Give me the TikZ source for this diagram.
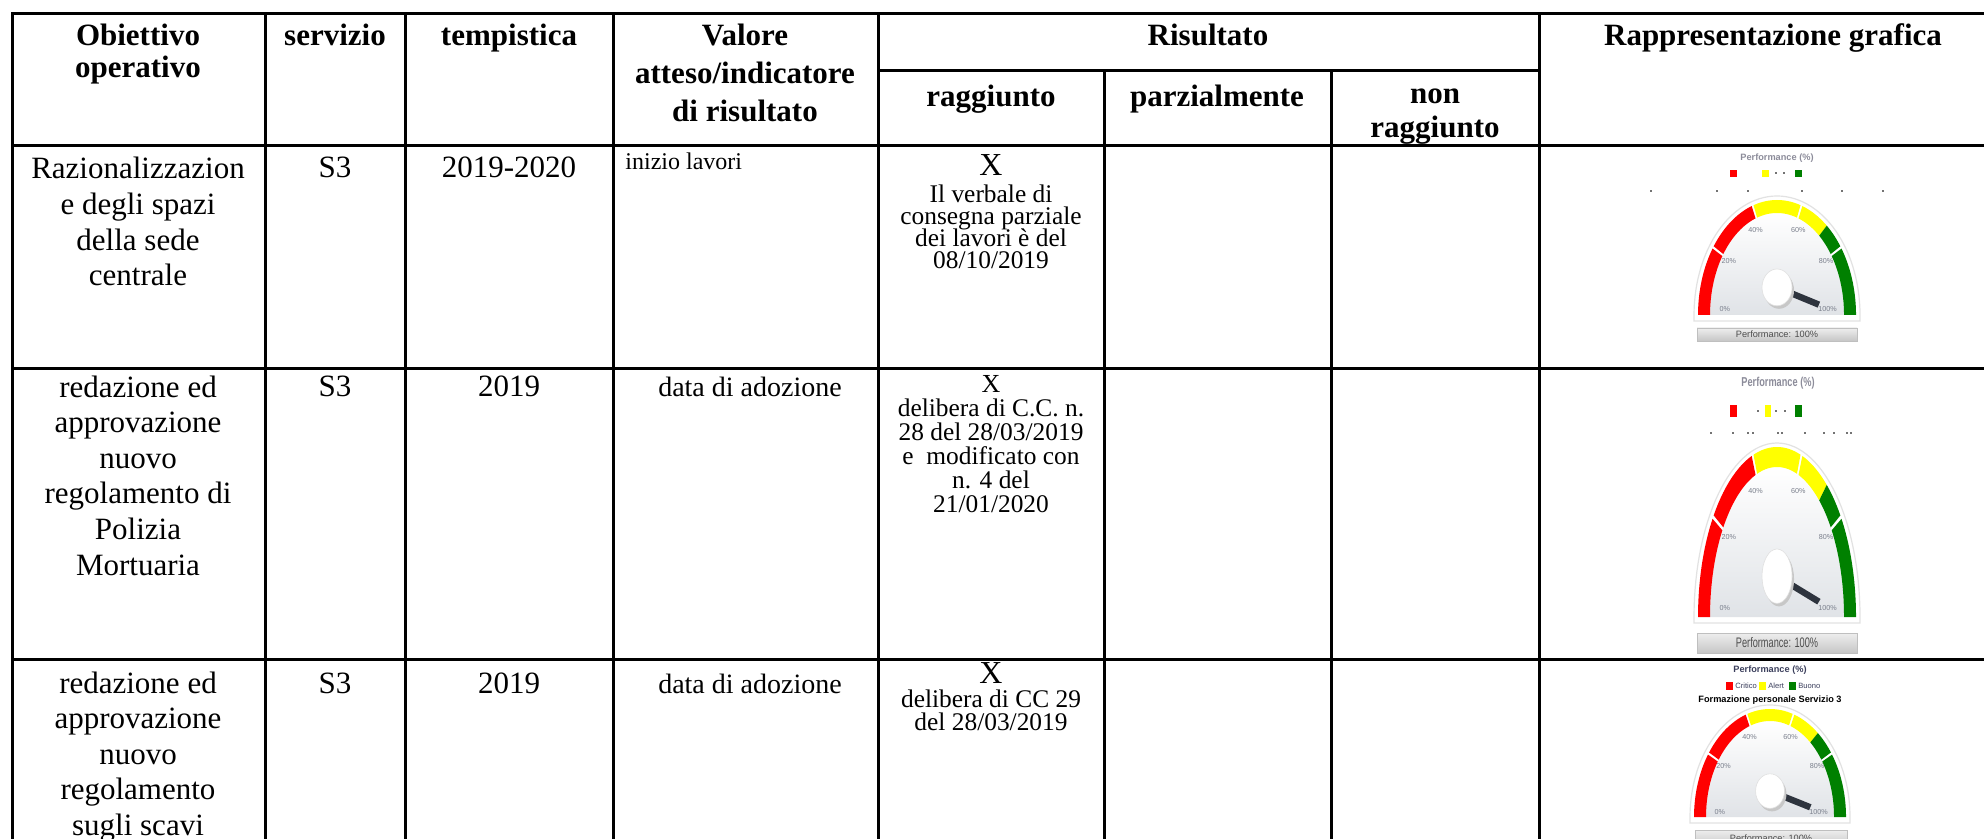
\documentclass[tikz,border=0pt]{standalone}
\usepackage{fontspec}
\setmainfont{Liberation Serif}
\newfontfamily\gsans{Liberation Sans}
\definecolor{gred}{HTML}{FF0000}
\definecolor{gyel}{HTML}{FFFF00}
\definecolor{ggrn}{HTML}{008000}
\definecolor{gbg}{HTML}{E0E3E7}
\definecolor{gring}{HTML}{E2E2E2}
\definecolor{glab}{HTML}{7A7F8C}
\definecolor{gneedle}{HTML}{2E343E}
\definecolor{gtitle}{HTML}{3B3F5C}
\definecolor{gdim}{HTML}{8C8C9A}
\definecolor{gbarA}{HTML}{EEEEEE}
\definecolor{gbarB}{HTML}{C6C6C6}
\tikzset{
  grid/.style={line width=1.5pt, line cap=rect},
  hd/.style={font=\fontsize{15.5}{18}\selectfont\bfseries, inner sep=0pt},
  bd/.style={font=\fontsize{15.5}{18}\selectfont, inner sep=0pt},
  md/.style={font=\fontsize{14}{16}\selectfont, inner sep=0pt},
  sm/.style={font=\fontsize{12.7}{15}\selectfont, inner sep=0pt, text height=8pt, text depth=2pt},
  smx/.style={font=\fontsize{12}{14}\selectfont, inner sep=0pt},
  xm/.style={font=\fontsize{16}{18}\selectfont, inner sep=0pt},
  xs/.style={font=\fontsize{13}{15}\selectfont, inner sep=0pt},
  glabel/.style={font=\gsans\fontsize{3.6}{4}\selectfont, text=glab, inner sep=0pt},
  gbartext/.style={font=\gsans\fontsize{4.6}{5}\selectfont, text=black!70, inner sep=0pt},
  gtit/.style={font=\gsans\fontsize{4.6}{5}\selectfont\bfseries, inner sep=0pt},
  gleg/.style={font=\gsans\fontsize{3.8}{4}\selectfont, text=gtitle, inner sep=0pt, anchor=west},
  dot/.style={fill=black!55},
}
\newcommand\celltext[6]{\foreach \lineT [count=\ii] in {#6} {\node[#5, anchor=base] (#1-\ii) at (#2,{#3+(\ii-1)*#4}) {\lineT};}}
\newcommand\gauge[6]{%
  \def\gx{#2}\def\gy{#3}\def\grx{#4}\def\gry{#5}\def\gbw{12}\def\gbwy{#6}%
  \filldraw[draw=gring, fill=white, line width=0.6pt] plot[domain=0:180, samples=61] ({\gx+(\grx+4)*cos(\x)},{\gy-(\gry+4)*sin(\x)}) -- ({\gx-\grx-4},{\gy+6}) -- ({\gx+\grx+4},{\gy+6}) -- cycle;
  \shade[top color=white, bottom color=gbg] plot[domain=0:180, samples=61] ({\gx+(\grx-\gbw)*cos(\x)},{\gy-(\gry-\gbwy)*sin(\x)}) -- cycle;
  \foreach \angA/\angB/\colC in {180/144.7/gred, 143.3/108.7/gred, 107.3/72.7/gyel, 71.3/51/gyel, 51/36.7/ggrn, 35.3/0/ggrn}{
    \fill[\colC] plot[domain=\angA:\angB, samples=25] ({\gx+\grx*cos(\x)},{\gy-\gry*sin(\x)}) -- plot[domain=\angB:\angA, samples=25] ({\gx+(\grx-\gbw)*cos(\x)},{\gy-(\gry-\gbwy)*sin(\x)}) -- cycle;
  }
  \foreach \lab/\fx/\fy [count=\kk] in {0\%/-0.66/0.05, 20\%/-0.61/0.47, 40\%/-0.27/0.74, 60\%/0.27/0.74, 80\%/0.62/0.47, 100\%/0.64/0.05}{
    \node[glabel] (#1-l\kk) at ({\gx+\fx*\grx},{\gy-\fy*\gry}) {\lab};
  }
  \draw[gneedle, line width=3.2pt] (\gx,{\gy-0.24*\gry}) -- ({\gx+0.53*\grx},{\gy-0.09*\gry});
  \fill[black!22] ({\gx+2},{\gy-0.24*\gry+3}) ellipse[x radius={0.19*\grx}, y radius={0.16*\gry}];
  \filldraw[fill=white, draw=black!12, line width=0.3pt] (\gx,{\gy-0.24*\gry}) ellipse[x radius={0.19*\grx}, y radius={0.16*\gry}];
}
\begin{document}
\begin{tikzpicture}[x=0.5pt, y=-0.5pt]
\useasboundingbox (0,0) rectangle (1984,839);
\fill[white] (0,0) rectangle (1984,839);

% ---------- table rules ----------
\draw[grid] (12,14) -- (1990,14);
\draw[grid] (878,71) -- (1539,71);
\draw[grid] (12,146) -- (1990,146);
\draw[grid] (12,368) -- (1990,368);
\draw[grid] (12,659) -- (1990,659);
\foreach \vx in {12,265,405,613,878,1539} \draw[grid] (\vx,14) -- (\vx,845);
\foreach \vx in {1104,1331} \draw[grid] (\vx,71) -- (\vx,845);

% ---------- header ----------
\celltext{hA}{138}{46}{32}{hd}{Obiettivo,operativo}
\node[hd, anchor=base] (hB) at (335,46) {servizio};
\node[hd, anchor=base] (hC) at (509,46) {tempistica};
\celltext{hD}{745}{46}{38}{hd}{Valore,atteso/indicatore,di risultato}
\node[hd, anchor=base] (hE) at (1208,46) {Risultato};
\node[hd, anchor=base] (hF) at (1773,46) {Rappresentazione grafica};
\node[hd, anchor=base] (hE1) at (991,107) {raggiunto};
\node[hd, anchor=base] (hE2) at (1217,107) {parzialmente};
\celltext{hE3}{1435}{104}{34}{hd}{non,raggiunto}

% ---------- row 1 ----------
\celltext{rA}{138}{179}{35.6}{bd}{Razionalizzazion,e degli spazi,della sede,centrale}
\node[bd, anchor=base] (rAs) at (335,178) {S3};
\node[bd, anchor=base] (rAt) at (509,178) {2019-2020};
\node[smx, anchor=base west] (rAv) at (625,170) {inizio lavori};
\node[xm, anchor=base] (rAx) at (991,176) {X};
\celltext{rAr}{991}{203}{21.7}{sm}{Il verbale di,consegna parziale,dei lavori è del,08/10/2019}

% ---------- row 2 ----------
\celltext{rB}{138}{397}{35.6}{bd}{redazione ed,approvazione,nuovo,regolamento di,Polizia,Mortuaria}
\node[bd, anchor=base] (rBs) at (335,396) {S3};
\node[bd, anchor=base] (rBt) at (509,396) {2019};
\node[md, anchor=base] (rBv) at (750,396) {data di adozione};
\node[xs, anchor=base] (rBx) at (991,392) {X};
\celltext{rBr}{991}{416}{24.2}{sm}{delibera di C.C. n.,28 del 28/03/2019,e~ modificato con,n. 4 del,21/01/2020}

% ---------- row 3 ----------
\celltext{rC}{138}{693}{35.6}{bd}{redazione ed,approvazione,nuovo,regolamento,sugli scavi}
\node[bd, anchor=base] (rCs) at (335,693) {S3};
\node[bd, anchor=base] (rCt) at (509,693) {2019};
\node[md, anchor=base] (rCv) at (750,693) {data di adozione};
\node[xm, anchor=base] (rCx) at (991,683) {X};
\celltext{rCr}{991}{707}{23}{sm}{delibera di CC 29,del 28/03/2019}

% ---------- gauge 1 ----------
\node[gtit, text=gdim] (g1t) at (1777,158) {Performance (\%)};
\fill[gred] (1730,170) rectangle (1737,177);
\fill[gyel] (1762,170) rectangle (1769,177);
\fill[ggrn] (1795,170) rectangle (1802,177);
\foreach \dx in {1775,1783} \fill[dot] (\dx,172) rectangle ++(2,2);
\foreach \dx in {1650,1716,1747,1801,1841,1882} \fill[dot] (\dx,190) rectangle ++(2,2);
\gauge{g1}{1777}{315}{79}{115}{13}
\shade[top color=gbarA, bottom color=gbarB, draw=black!25, line width=0.3pt] (1697,328) rectangle (1857,341);
\node[gbartext] (g1b) at (1777,334.5) {Performance: 100\%};

% ---------- gauge 2 ----------
\node[gtit, text=gdim, yscale=1.4] (g2t) at (1778,383) {Performance (\%)};
\fill[gred] (1730,405) rectangle (1737,417);
\fill[gyel] (1765,405) rectangle (1771,417);
\fill[ggrn] (1795,405) rectangle (1802,417);
\foreach \dx in {1757,1775,1784} \fill[dot] (\dx,410) rectangle ++(2,2);
\foreach \dx in {1710,1732,1747,1752,1777,1781,1804,1823,1833,1846,1850} \fill[dot] (\dx,432) rectangle ++(2,2);
\gauge{g2}{1777}{617}{79}{170}{20}
\shade[top color=gbarA, bottom color=gbarB, draw=black!25, line width=0.3pt] (1697,633) rectangle (1857,653);
\node[gbartext, yscale=1.5] (g2b) at (1777,643) {Performance: 100\%};

% ---------- gauge 3 ----------
\node[gtit, text=gtitle] (g3t) at (1770,670) {Performance (\%)};
\fill[gred] (1726,682) rectangle (1733,690);
\node[gleg] (g3l1) at (1735,686) {Critico};
\fill[gyel] (1759,682) rectangle (1766,690);
\node[gleg] (g3l2) at (1768,686) {Alert};
\fill[ggrn] (1789,682) rectangle (1796,690);
\node[gleg] (g3l3) at (1798,686) {Buono};
\node[gtit, text=black] (g3s) at (1770,700) {Formazione personale Servizio 3};
\gauge{g3}{1770}{817}{76}{108}{12}
\shade[top color=gbarA, bottom color=gbarB, draw=black!25, line width=0.3pt] (1695,830) rectangle (1847,847);
\node[gbartext] (g3b) at (1771,838) {Performance: 100\%};
\end{tikzpicture}
\end{document}
